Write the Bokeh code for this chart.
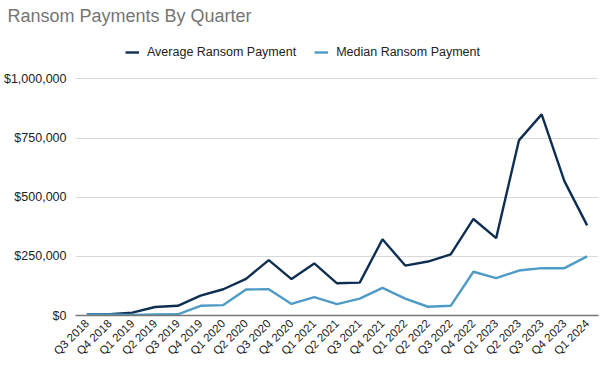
from math import pi
from bokeh.plotting import figure
from bokeh.models import Legend, LegendItem, NumeralTickFormatter, FixedTicker, Range1d
from bokeh.embed import file_html
from bokeh.resources import INLINE

quarters = ["Q3 2018", "Q4 2018", "Q1 2019", "Q2 2019", "Q3 2019", "Q4 2019",
            "Q1 2020", "Q2 2020", "Q3 2020", "Q4 2020", "Q1 2021", "Q2 2021",
            "Q3 2021", "Q4 2021", "Q1 2022", "Q2 2022", "Q3 2022", "Q4 2022",
            "Q1 2023", "Q2 2023", "Q3 2023", "Q4 2023", "Q1 2024"]
average = [5000, 6000, 12000, 36000, 41000, 84000, 111000, 155000, 234000, 154000,
           220000, 136000, 139000, 322000, 211000, 228000, 258000, 408000, 327000,
           740000, 850000, 568000, 381000]
median = [4000, 4000, 2000, 4000, 5000, 41000, 44000, 110000, 111000, 49000,
          78000, 48000, 71000, 117000, 71000, 37000, 41000, 185000, 158000,
          190000, 200000, 200000, 250000]
y_ticks = [0, 250000, 500000, 750000, 1000000]

FONT = "Liberation Sans"

p = figure(x_range=quarters, width=600, height=365, output_backend="svg",
           toolbar_location=None, min_border_left=4, min_border_right=2,
           min_border_top=0, min_border_bottom=50,
           title="Ransom Payments By Quarter")
# extra headroom above $1,000,000 holds the legend, as in the reference
p.y_range = Range1d(0, 1213000)

p.title.text_font = FONT
p.title.text_font_size = "18px"
p.title.text_color = "#757575"
p.title.text_font_style = "normal"
p.title.align = "left"
p.title.offset = -68
p.title.standoff = 6

r1 = p.line(quarters, average, line_color="#0e2f52", line_width=2.4)
r2 = p.line(quarters, median, line_color="#4e9bc6", line_width=2.4)

legend = Legend(items=[LegendItem(label="Average Ransom Payment", renderers=[r1]),
                       LegendItem(label="Median Ransom Payment", renderers=[r2])],
                orientation="horizontal", location=(50, 256),
                label_text_font=FONT, label_text_font_size="12.5px",
                label_text_color="#222222", glyph_width=14, glyph_height=6,
                spacing=18, border_line_color=None, background_fill_alpha=0,
                padding=4, label_standoff=8)
p.add_layout(legend)

p.yaxis.ticker = FixedTicker(ticks=y_ticks)
p.yaxis.formatter = NumeralTickFormatter(format="$0,0")
p.yaxis.axis_line_color = None
p.yaxis.major_tick_line_color = None
p.yaxis.minor_tick_line_color = None
p.yaxis.major_label_text_font = FONT
p.yaxis.major_label_text_font_size = "12.5px"
p.yaxis.major_label_text_color = "#222222"
p.yaxis.major_label_standoff = 3

p.xaxis.major_label_orientation = pi / 4
p.xaxis.axis_line_color = "#777777"
p.xaxis.axis_line_width = 1.5
p.xaxis.major_tick_line_color = None
p.xaxis.minor_tick_line_color = None
p.xaxis.major_label_text_font = FONT
p.xaxis.major_label_text_font_size = "11.5px"
p.xaxis.major_label_text_color = "#222222"
p.xaxis.major_label_standoff = 0

p.xgrid.grid_line_color = None
p.ygrid.grid_line_color = "#d9d9d9"
p.outline_line_color = None
p.x_range.range_padding = 0

open("out.html", "w").write(file_html(p, INLINE))
